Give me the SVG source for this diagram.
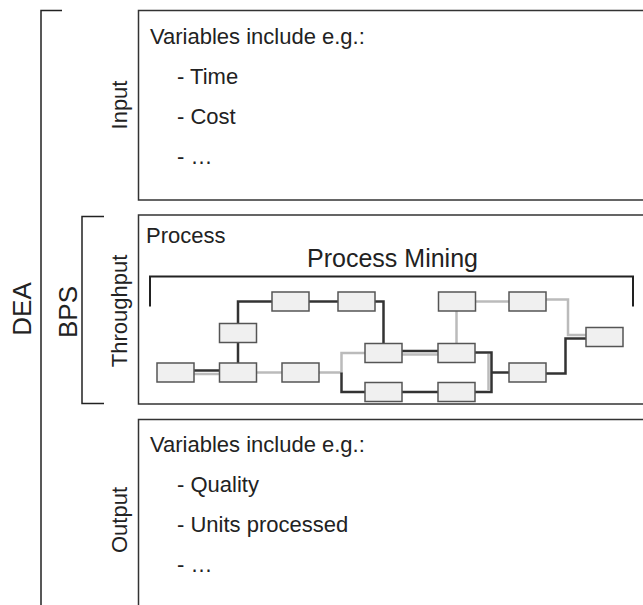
<svg xmlns="http://www.w3.org/2000/svg" width="643" height="605" viewBox="0 0 643 605">
  <style>
    text { font-family: "Liberation Sans", Arial, sans-serif; fill: #222; }
    .body { font-size: 22px; }
    .side { font-size: 22px; }
    .big { font-size: 26px; }
    .frame { fill: #fff; stroke: #333; stroke-width: 1.5; }
    .brk { fill: none; stroke: #222; stroke-width: 1.5; }
    .task { fill: #f0f0f0; stroke: #555; stroke-width: 1.5; }
    .dk { fill: none; stroke: #333; stroke-width: 2.5; }
    .lt { fill: none; stroke: #bbb; stroke-width: 2.5; }
  </style>

  <!-- outer brackets -->
  <g id="dea">
    <path class="brk" d="M62,10.5 H41 V605"/>
    <text class="big" transform="translate(31,309) rotate(-90)" text-anchor="middle">DEA</text>
  </g>
  <g id="bps">
    <path class="brk" d="M104,216.5 H82 V403.5 H104"/>
    <text class="big" transform="translate(77,312) rotate(-90)" text-anchor="middle">BPS</text>
  </g>

  <!-- input section -->
  <g id="input">
    <rect class="frame" x="138.5" y="10.5" width="520" height="189.5"/>
    <text class="side" transform="translate(127,105) rotate(-90)" text-anchor="middle">Input</text>
    <text class="body" x="150" y="44">Variables include e.g.:</text>
    <text class="body" x="177" y="84">- Time</text>
    <text class="body" x="177" y="124">- Cost</text>
    <text class="body" x="177" y="164">- …</text>
  </g>

  <!-- throughput section -->
  <g id="throughput">
    <rect class="frame" x="138.5" y="215" width="520" height="189"/>
    <text class="side" transform="translate(127,311) rotate(-90)" text-anchor="middle">Throughput</text>
    <text class="body" x="146" y="243">Process</text>
    <text x="392.5" y="267" text-anchor="middle" style="font-size:25px">Process Mining</text>
    <path class="brk" d="M150,306.5 V276.5 H633 V306.5" style="stroke-width:2"/>
  </g>

  <!-- output section -->
  <g id="output">
    <rect class="frame" x="138.5" y="419.5" width="520" height="200"/>
    <text class="side" transform="translate(127,520) rotate(-90)" text-anchor="middle">Output</text>
    <text class="body" x="150" y="452">Variables include e.g.:</text>
    <text class="body" x="177" y="492">- Quality</text>
    <text class="body" x="177" y="532">- Units processed</text>
    <text class="body" x="177" y="572">- …</text>
  </g>

  <!-- process model connectors -->
  <g id="connectors">
    <path class="dk" d="M194,370.5 H219.5"/>
    <path class="lt" d="M194,374 H219.5"/>
    <path class="dk" d="M238,363 V342.5"/>
    <path class="dk" d="M238,323.5 V301.5 H272"/>
    <path class="dk" d="M309,301.5 H338"/>
    <path class="dk" d="M375,301.5 H383.5 V343.5"/>
    <path class="lt" d="M256.5,372.5 H282"/>
    <path class="lt" d="M319,372.5 H341.5 V353 H365"/>
    <path class="dk" d="M341.5,372.5 V392 H365"/>
    <path class="dk" d="M402,351 H438"/>
    <path class="lt" d="M402,354.5 H438"/>
    <path class="lt" d="M456.5,343.5 V311"/>
    <path class="lt" d="M475.5,301.5 H509"/>
    <path class="lt" d="M546,299.5 H568 V335 H586"/>
    <path class="dk" d="M546,373.5 H565.5 V338.5 H586"/>
    <path class="lt" d="M488.5,354 V390"/>
    <path class="dk" d="M475,352.5 H491.5 V392 H475"/>
    <path class="dk" d="M491.5,372.5 H509"/>
    <path class="dk" d="M402,392 H438"/>
  </g>

  <!-- process model tasks -->
  <g id="task-a"><rect class="task" x="157" y="363" width="37" height="19"/></g>
  <g id="task-b"><rect class="task" x="219.5" y="363" width="37" height="19"/></g>
  <g id="task-c"><rect class="task" x="219.5" y="323.5" width="37" height="19"/></g>
  <g id="task-d"><rect class="task" x="272" y="292" width="37" height="19"/></g>
  <g id="task-e"><rect class="task" x="338" y="292" width="37" height="19"/></g>
  <g id="task-f"><rect class="task" x="438.5" y="292" width="37" height="19"/></g>
  <g id="task-g"><rect class="task" x="509" y="292" width="37" height="19"/></g>
  <g id="task-h"><rect class="task" x="282" y="363" width="37" height="19"/></g>
  <g id="task-i"><rect class="task" x="365" y="343.5" width="37" height="19"/></g>
  <g id="task-j"><rect class="task" x="438" y="343.5" width="37" height="19"/></g>
  <g id="task-k"><rect class="task" x="365" y="382.5" width="37" height="19"/></g>
  <g id="task-l"><rect class="task" x="438" y="382.5" width="37" height="19"/></g>
  <g id="task-m"><rect class="task" x="509" y="363" width="37" height="19"/></g>
  <g id="task-n"><rect class="task" x="586" y="327.5" width="37" height="19"/></g>
</svg>
